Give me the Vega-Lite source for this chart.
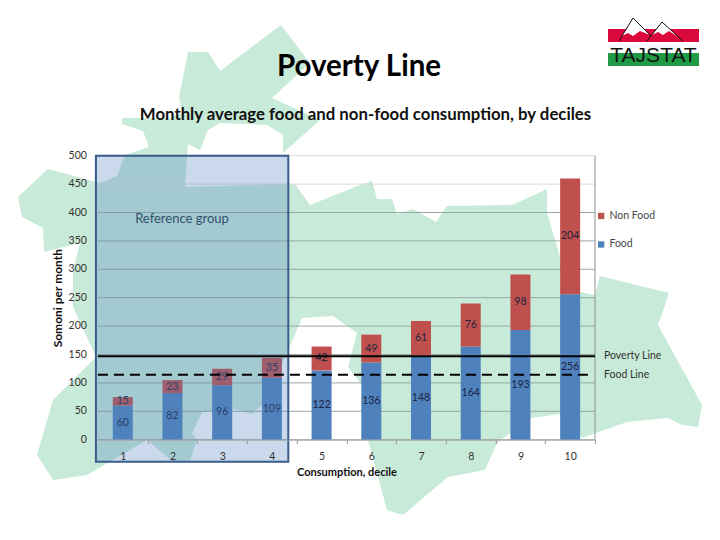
{
"$schema":"https://vega.github.io/schema/vega-lite/v6.json",
"width":497.1,"height":284,
"autosize":{"type":"none"},
"padding":{"left":97.9,"top":155.7,"right":125,"bottom":100.3},
"background":"#ffffff",
"view":{"stroke":null},
"datasets":{
"consumption":[
{"decile":1,"series":"Food","somoni":60},{"decile":1,"series":"Non Food","somoni":15},
{"decile":2,"series":"Food","somoni":82},{"decile":2,"series":"Non Food","somoni":23},
{"decile":3,"series":"Food","somoni":96},{"decile":3,"series":"Non Food","somoni":29},
{"decile":4,"series":"Food","somoni":109},{"decile":4,"series":"Non Food","somoni":35},
{"decile":5,"series":"Food","somoni":122},{"decile":5,"series":"Non Food","somoni":42},
{"decile":6,"series":"Food","somoni":136},{"decile":6,"series":"Non Food","somoni":49},
{"decile":7,"series":"Food","somoni":148},{"decile":7,"series":"Non Food","somoni":61},
{"decile":8,"series":"Food","somoni":164},{"decile":8,"series":"Non Food","somoni":76},
{"decile":9,"series":"Food","somoni":193},{"decile":9,"series":"Non Food","somoni":98},
{"decile":10,"series":"Food","somoni":256},{"decile":10,"series":"Non Food","somoni":204}],
"lines":[{"name":"Poverty Line","somoni":146.8,"from":0.5,"to":10.5,"kind":"solid"},{"name":"Food Line","somoni":114.5,"from":0.5,"to":10.36,"kind":"dash"}],
"country":[
{"s":1,"mx":122,"my":118},{"s":2,"mx":122,"my":124},{"s":3,"mx":143,"my":131},{"s":4,"mx":149,"my":147},{"s":5,"mx":125,"my":155},{"s":6,"mx":117,"my":176},{"s":7,"mx":100,"my":183},{"s":8,"mx":48,"my":169},{"s":9,"mx":18,"my":197},{"s":10,"mx":22,"my":217},{"s":11,"mx":43,"my":228},{"s":12,"mx":44,"my":252},{"s":13,"mx":80,"my":243},{"s":14,"mx":73,"my":270},{"s":15,"mx":73,"my":307},{"s":16,"mx":96,"my":357},{"s":17,"mx":53,"my":400},{"s":18,"mx":37,"my":455},{"s":19,"mx":53,"my":480},{"s":20,"mx":87,"my":475},{"s":21,"mx":113,"my":460},{"s":22,"mx":147,"my":440},{"s":23,"mx":172,"my":461},{"s":24,"mx":190,"my":461},{"s":25,"mx":197,"my":440},{"s":26,"mx":192,"my":433},{"s":27,"mx":202,"my":412},{"s":28,"mx":233,"my":409},{"s":29,"mx":252,"my":414},{"s":30,"mx":262,"my":405},{"s":31,"mx":287,"my":353},{"s":32,"mx":302,"my":318},{"s":33,"mx":333,"my":316},{"s":34,"mx":357,"my":333},{"s":35,"mx":348,"my":367},{"s":36,"mx":362,"my":385},{"s":37,"mx":368,"my":440},{"s":38,"mx":387,"my":510},{"s":39,"mx":403,"my":515},{"s":40,"mx":448,"my":477},{"s":41,"mx":485,"my":470},{"s":42,"mx":497,"my":443},{"s":43,"mx":510,"my":433},{"s":44,"mx":531,"my":418},{"s":45,"mx":560,"my":414},{"s":46,"mx":582,"my":438},{"s":47,"mx":627,"my":422},{"s":48,"mx":668,"my":418},{"s":49,"mx":682,"my":425},{"s":50,"mx":698,"my":427},{"s":51,"mx":702,"my":405},{"s":52,"mx":658,"my":325},{"s":53,"mx":669,"my":293},{"s":54,"mx":600,"my":276},{"s":55,"mx":595,"my":295},{"s":56,"mx":580,"my":292},{"s":57,"mx":560,"my":257},{"s":58,"mx":547,"my":213},{"s":59,"mx":547,"my":189},{"s":60,"mx":512,"my":205},{"s":61,"mx":447,"my":206},{"s":62,"mx":436,"my":222},{"s":63,"mx":413,"my":209},{"s":64,"mx":397,"my":214},{"s":65,"mx":392,"my":199},{"s":66,"mx":377,"my":199},{"s":67,"mx":372,"my":181},{"s":68,"mx":360,"my":185},{"s":69,"mx":310,"my":205},{"s":70,"mx":295,"my":184},{"s":71,"mx":185,"my":187},{"s":72,"mx":188,"my":144},{"s":73,"mx":200,"my":150},{"s":74,"mx":208,"my":130},{"s":75,"mx":220,"my":123},{"s":76,"mx":267,"my":125},{"s":77,"mx":283,"my":135},{"s":78,"mx":283,"my":153},{"s":79,"mx":320,"my":120},{"s":80,"mx":272,"my":98},{"s":81,"mx":310,"my":63},{"s":82,"mx":281,"my":25},{"s":83,"mx":220,"my":71},{"s":84,"mx":208,"my":52},{"s":85,"mx":188,"my":52},{"s":86,"mx":179,"my":97},{"s":87,"mx":182,"my":113},{"s":88,"mx":170,"my":118}],
"notes":[
{"label":"Poverty Line","mx":359,"my":67,"kind":"top"},
{"label":"Monthly average food and non-food consumption, by deciles","mx":365.5,"my":115,"kind":"head"},
{"label":"Reference group","mx":182,"my":219,"kind":"ref"}],
"logoBands":[{"a":608,"b":699,"c":29,"d":42},{"a":608,"b":699,"c":53,"d":66}],
"logoCaps":[
{"m":"a","s":1,"mx":633,"my":18},{"m":"a","s":2,"mx":622,"my":36},{"m":"a","s":3,"mx":628,"my":33},{"m":"a","s":4,"mx":633,"my":36},{"m":"a","s":5,"mx":640,"my":31},{"m":"a","s":6,"mx":650,"my":35},
{"m":"b","s":1,"mx":662,"my":22},{"m":"b","s":2,"mx":652,"my":35},{"m":"b","s":3,"mx":658,"my":32},{"m":"b","s":4,"mx":663,"my":35},{"m":"b","s":5,"mx":669,"my":31},{"m":"b","s":6,"mx":678,"my":37}],
"logoRidges":[
{"m":"a","s":1,"mx":619,"my":41},{"m":"a","s":2,"mx":633,"my":18},{"m":"a","s":3,"mx":651,"my":36},
{"m":"b","s":1,"mx":647,"my":41},{"m":"b","s":2,"mx":662,"my":22},{"m":"b","s":3,"mx":683,"my":41}],
"logoWord":[{"word":"TAJSTAT","mx":653.5,"my":62}],
"grid":[{"g":0},{"g":50},{"g":100},{"g":150},{"g":200},{"g":250},{"g":300},{"g":350},{"g":400},{"g":450},{"g":500}],
"box":[{"x0":0.46,"x1":4.33,"y0":-39,"y1":500}]
},
"resolve":{"scale":{"x":"independent","y":"independent"}},
"layer":[
{"layer":[
{"data":{"name":"country"},
 "mark":{"type":"line","fill":"#c8ead8","strokeWidth":0,"stroke":"#c8ead8"},
 "encoding":{"x":{"field":"mx","type":"quantitative","axis":null,"scale":{"domain":[0,720],"range":[-97.9,622.1],"nice":false,"zero":false}},
  "y":{"field":"my","type":"quantitative","axis":null,"scale":{"domain":[0,540],"range":[-155.7,384.3],"nice":false,"zero":false}},
  "order":{"field":"s","type":"quantitative"}}},
{"data":{"name":"notes"},"transform":[{"filter":"datum.kind==='top'"}],
 "mark":{"type":"text","font":"Lato","fontSize":29.5,"fontWeight":"bold","color":"#000000","align":"center"},
 "encoding":{"x":{"field":"mx","type":"quantitative","axis":null},"y":{"field":"my","type":"quantitative","axis":null},"text":{"field":"label"}}},
{"data":{"name":"notes"},"transform":[{"filter":"datum.kind==='head'"}],
 "mark":{"type":"text","font":"Lato","fontSize":16.8,"fontWeight":"bold","color":"#111111","align":"center"},
 "encoding":{"x":{"field":"mx","type":"quantitative","axis":null},"y":{"field":"my","type":"quantitative","axis":null},"text":{"field":"label"}}},
{"data":{"name":"notes"},"transform":[{"filter":"datum.kind==='ref'"}],
 "mark":{"type":"text","font":"Lato","fontSize":13,"color":"#1f3a4a","align":"center"},
 "encoding":{"x":{"field":"mx","type":"quantitative","axis":null},"y":{"field":"my","type":"quantitative","axis":null},"text":{"field":"label"}}},
{"data":{"name":"logoBands"},"transform":[{"filter":"datum.c<40"}],"mark":{"type":"rect","fill":"#dc0a3c"},
 "encoding":{"x":{"field":"a","type":"quantitative","axis":null},"x2":{"field":"b"},"y":{"field":"c","type":"quantitative","axis":null},"y2":{"field":"d"}}},
{"data":{"name":"logoBands"},"transform":[{"filter":"datum.c>40"}],"mark":{"type":"rect","fill":"#1f9b46"},
 "encoding":{"x":{"field":"a","type":"quantitative","axis":null},"x2":{"field":"b"},"y":{"field":"c","type":"quantitative","axis":null},"y2":{"field":"d"}}},
{"data":{"name":"logoCaps"},"mark":{"type":"line","fill":"#ffffff","stroke":"#ffffff","strokeWidth":0},
 "encoding":{"x":{"field":"mx","type":"quantitative","axis":null},"y":{"field":"my","type":"quantitative","axis":null},"detail":{"field":"m"},"order":{"field":"s","type":"quantitative"}}},
{"data":{"name":"logoRidges"},"mark":{"type":"line","stroke":"#111111","strokeWidth":1},
 "encoding":{"x":{"field":"mx","type":"quantitative","axis":null},"y":{"field":"my","type":"quantitative","axis":null},"detail":{"field":"m"},"order":{"field":"s","type":"quantitative"}}},
{"data":{"name":"logoWord"},"mark":{"type":"text","font":"Liberation Sans","fontSize":21,"color":"#111111","align":"center","baseline":"alphabetic"},
 "encoding":{"x":{"field":"mx","type":"quantitative","axis":null},"y":{"field":"my","type":"quantitative","axis":null},"text":{"field":"word"}}}
]},
{"layer":[
{"data":{"name":"grid"},"mark":{"type":"rule","strokeWidth":1},
 "encoding":{"y":{"field":"g","type":"quantitative","title":"Somoni per month",
   "scale":{"domain":[0,500],"nice":false},
   "axis":{"labels":false,"grid":false,"ticks":false,"domain":false,"titleFont":"Lato","titleFontSize":12,"titleFontWeight":"bold","titleColor":"#111111","titlePadding":33,"zindex":1}},
 "color":{"condition":{"test":"datum.g>=450","value":"#d9d9d9"},"value":"#98a8a2"}}},
{"data":{"name":"grid"},"mark":{"type":"text","align":"right","dx":-11,"font":"Lato","fontSize":10.5,"color":"#333333"},
 "encoding":{"x":{"datum":0.5,"type":"quantitative"},"y":{"field":"g","type":"quantitative"},"text":{"field":"g","type":"quantitative"}}},
{"data":{"name":"consumption"},
 "transform":[{"stack":"somoni","groupby":["decile"],"sort":[{"field":"series","order":"ascending"}],"as":["s0","s1"]}],
 "mark":{"type":"bar","size":20,"orient":"vertical"},
 "encoding":{
  "x":{"field":"decile","type":"quantitative","title":"Consumption, decile",
   "scale":{"domain":[0.5,10.5],"nice":false,"zero":false,"padding":0},
   "axis":{"values":[1.5,2.5,3.5,4.5,5.5,6.5,7.5,8.5,9.5,10.5],"labelExpr":"datum.value-0.5","labelOffset":-24.85,"grid":false,"tickColor":"#9a9a9a","tickSize":4,"domainColor":"#a8a8a8","labelFont":"Lato","labelFontSize":10.5,"labelColor":"#333333","labelPadding":8,"titleFont":"Lato","titleFontSize":11,"titleFontWeight":"bold","titleColor":"#111111","titlePadding":4,"zindex":1,"labelFlush":false,"labelOverlap":false}},
  "y":{"field":"s0","type":"quantitative"},
  "y2":{"field":"s1"},
  "color":{"field":"series","type":"nominal","scale":{"domain":["Non Food","Food"],"range":["#c0504d","#4f81bd"]},
   "legend":{"title":null,"orient":"none","legendX":498,"legendY":55,"symbolType":"square","symbolSize":40,"symbolStrokeWidth":0,"labelFont":"Lato","labelFontSize":10.5,"labelColor":"#444444","rowPadding":17.5,"labelOffset":3}}}},
{"data":{"name":"consumption"},
 "transform":[{"stack":"somoni","groupby":["decile"],"sort":[{"field":"series","order":"ascending"}],"as":["s0","s1"]},
  {"fold":["s0","s1"],"as":["edge","level"]},
  {"aggregate":[{"op":"mean","field":"level","as":"mid"}],"groupby":["decile","series","somoni"]}],
 "mark":{"type":"text","font":"Lato","fontSize":10.5,"color":"#1b2440"},
 "encoding":{"x":{"field":"decile","type":"quantitative"},"y":{"field":"mid","type":"quantitative"},"text":{"field":"somoni","type":"quantitative"}}},
{"data":{"name":"box"},"mark":{"type":"rect","fill":"#4f81bd","fillOpacity":0.3,"stroke":"#385d8a","strokeWidth":2},
 "encoding":{"x":{"field":"x0","type":"quantitative"},"x2":{"field":"x1"},"y":{"field":"y0","type":"quantitative"},"y2":{"field":"y1"}}},
{"data":{"values":[{"edge":10.5}]},"mark":{"type":"rule","stroke":"#8f8f8f","strokeWidth":1},
 "encoding":{"x":{"field":"edge","type":"quantitative"}}},
{"data":{"name":"lines"},"transform":[{"filter":"datum.kind==='solid'"}],"mark":{"type":"rule","stroke":"#000000","strokeWidth":2},
 "encoding":{"x":{"field":"from","type":"quantitative"},"x2":{"field":"to"},"y":{"field":"somoni","type":"quantitative"}}},
{"data":{"name":"lines"},"transform":[{"filter":"datum.kind==='dash'"}],"mark":{"type":"rule","stroke":"#000000","strokeWidth":2,"strokeDash":[10,6]},
 "encoding":{"x":{"field":"from","type":"quantitative"},"x2":{"field":"to"},"y":{"field":"somoni","type":"quantitative"}}},
{"data":{"name":"lines"},"mark":{"type":"text","align":"left","dx":9,"font":"Lato","fontSize":10.5,"color":"#333333"},
 "encoding":{"x":{"datum":10.5,"type":"quantitative"},"y":{"field":"somoni","type":"quantitative"},"text":{"field":"name"}}}
]}
]
}
